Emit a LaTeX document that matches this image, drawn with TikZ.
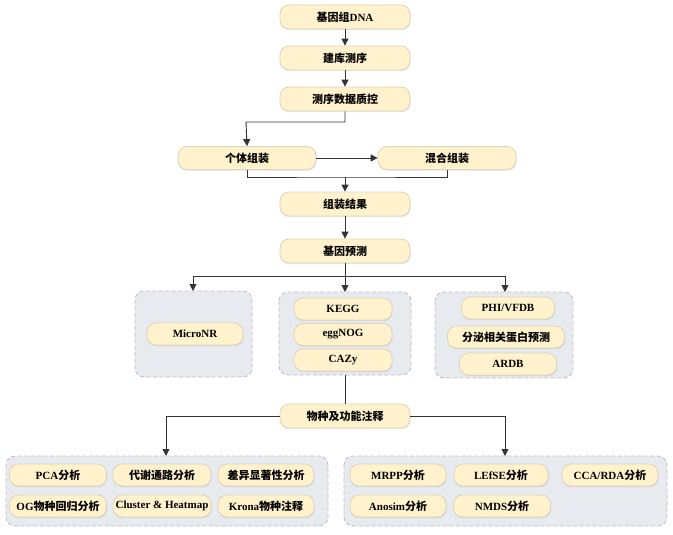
\documentclass[tikz,border=0pt]{standalone}
\usepackage{fontspec}
\setmainfont{Liberation Serif}
\newfontfamily\cjk{Noto Sans CJK SC}
\usetikzlibrary{arrows.meta,shadows}
\definecolor{nodefill}{HTML}{FFF2CC}
\definecolor{nodeline}{HTML}{DDD3B8}
\definecolor{grpfill}{HTML}{E7EAEF}
\definecolor{grpline}{HTML}{BDBDBD}
\definecolor{conn}{HTML}{333333}
\tikzset{
  box/.style={draw=nodeline, fill=nodefill, rounded corners=9pt, line width=0.8pt,
    minimum height=#1, inner sep=0pt, font=\bfseries\fontsize{11}{12}\selectfont,
    drop shadow={shadow xshift=0.6pt, shadow yshift=-1.2pt, opacity=0.18}},
  box/.default=24pt,
  grp/.style={draw=grpline, fill=grpfill, dashed, dash pattern=on 4pt off 2.5pt, rounded corners=9pt, line width=0.8pt},
  conn/.style={draw=conn, line width=0.9pt},
  arr/.style={conn, -{Triangle[length=7pt,width=7pt]}},
}
\begin{document}
\begin{tikzpicture}[x=1pt,y=-1pt]
\useasboundingbox (0,0) rectangle (673,535);
% groups
\draw[grp] (135,291) rectangle (252,377);
\draw[grp] (279,292) rectangle (411,375);
\draw[grp] (435,292) rectangle (573,378);
\draw[grp] (6,456) rectangle (328,526);
\draw[grp] (344,456) rectangle (667,526);
% main chain
\node[box, minimum width=130pt] (dna) at (345,17) {{\cjk 基因组}DNA};
\node[box, minimum width=130pt] (lib) at (345,58) {\cjk 建库测序};
\node[box, minimum width=130pt] (qc) at (345,99) {\cjk 测序数据质控};
\node[box=23pt, minimum width=138pt] (ind) at (247,158) {\cjk 个体组装};
\node[box=23pt, minimum width=138pt] (mix) at (447,158) {\cjk 混合组装};
\node[box, minimum width=130pt] (res) at (345,204) {\cjk 组装结果};
\node[box, minimum width=130pt] (pred) at (345,251) {\cjk 基因预测};
\node[box, minimum width=130pt] (anno) at (345,416) {\cjk 物种及功能注释};
% group 1
\node[box=22pt, minimum width=96pt] (micro) at (195,334) {MicroNR};
% group 2
\node[box=22pt, minimum width=98pt] (kegg) at (343,309) {KEGG};
\node[box=22pt, minimum width=98pt] (egg) at (343,334.5) {eggNOG};
\node[box=22pt, minimum width=98pt] (caz) at (343,360) {CAZy};
% group 3
\node[box=22pt, minimum width=93pt] (phi) at (508,308) {PHI/VFDB};
\node[box=22pt, minimum width=117pt] (sec) at (506,337) {\cjk 分泌相关蛋白预测};
\node[box=22pt, minimum width=97pt] (ardb) at (508,364) {ARDB};
% bottom left
\node[box=22pt, minimum width=97pt] (pca) at (58,475) {PCA{\cjk 分析}};
\node[box=22pt, minimum width=98pt] (met) at (162,475) {\cjk 代谢通路分析};
\node[box=22pt, minimum width=96pt] (dif) at (266,475) {\cjk 差异显著性分析};
\node[box=22pt, minimum width=97pt] (og) at (58,506) {OG{\cjk 物种回归分析}};
\node[box=22pt, minimum width=98pt] (clu) at (162,506) {Cluster \& Heatmap};
\node[box=22pt, minimum width=96pt] (kro) at (266,506) {Krona{\cjk 物种注释}};
% bottom right
\node[box=22pt, minimum width=96pt] (mrpp) at (398,475) {MRPP{\cjk 分析}};
\node[box=22pt, minimum width=94pt] (lef) at (501,475) {LEfSE{\cjk 分析}};
\node[box=22pt, minimum width=96pt] (cca) at (610,475) {CCA/RDA{\cjk 分析}};
\node[box=22pt, minimum width=96pt] (ano) at (398,506) {Anosim{\cjk 分析}};
\node[box=22pt, minimum width=97pt] (nmds) at (502,506) {NMDS{\cjk 分析}};
% coordinates
\coordinate (g1t) at (193,291);
\coordinate (g2t) at (345,292);
\coordinate (g3t) at (505,292);
\coordinate (g2b) at (345,375);
\coordinate (glt) at (166,456);
\coordinate (grt) at (505,456);
% connectors
\draw[arr] (dna) -- (lib);
\draw[arr] (lib) -- (qc);
\draw[arr] (qc.south) |- (246,122) -- (ind.north);
\draw[arr] (ind) -- (mix);
\draw[conn] (ind.south) |- (345,177) -| (mix.south);
\draw[arr] (345,177) -- (res.north);
\draw[arr] (res) -- (pred);
\draw[conn] (pred.south) -- (345,276);
\draw[arr] (345,276) -| (g1t);
\draw[arr] (345,276) -| (g3t);
\draw[arr] (345,276) -- (g2t);
\draw[conn] (g2b) -- (anno.north);
\draw[arr] (anno.west) -| (glt);
\draw[arr] (anno.east) -| (grt);
\end{tikzpicture}
\end{document}
